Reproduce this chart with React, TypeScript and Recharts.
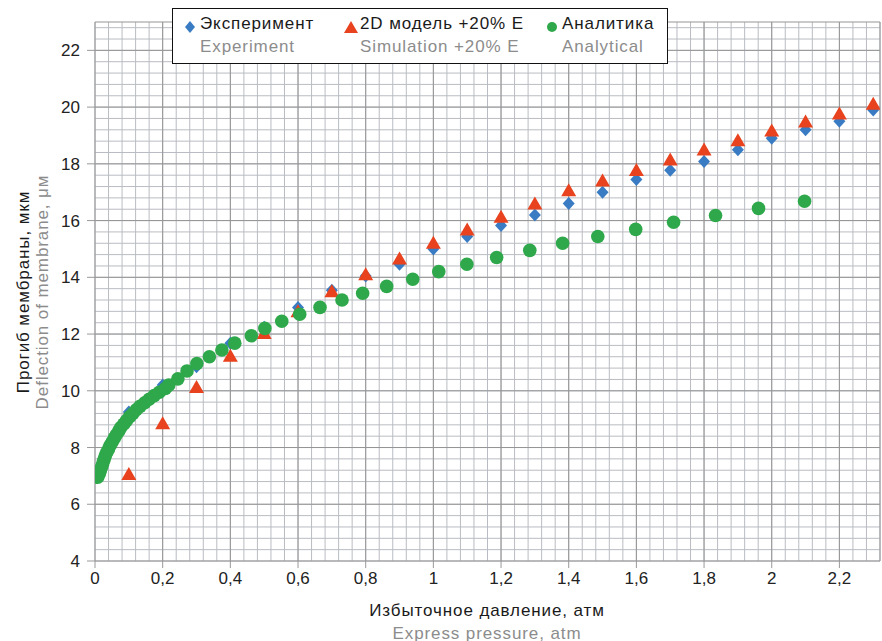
import React from 'react';
import { ScatterChart, Scatter, XAxis, YAxis, CartesianGrid } from 'recharts';

const pressure = [0.1, 0.2, 0.3, 0.4, 0.5, 0.6, 0.7, 0.8, 0.9, 1.0, 1.1, 1.2, 1.3, 1.4, 1.5, 1.6, 1.7, 1.8, 1.9, 2.0, 2.1, 2.2, 2.3];
const experiment = [9.25, 10.2, 10.85, 11.68, 12.24, 12.94, 13.54, 14.05, 14.46, 15.0, 15.44, 15.83, 16.2, 16.6, 17.0, 17.45, 17.77, 18.08, 18.5, 18.9, 19.2, 19.5, 19.9];
const simulation = [7.03, 8.82, 10.1, 11.2, 12.0, 12.77, 13.47, 14.07, 14.63, 15.18, 15.65, 16.1, 16.57, 17.03, 17.38, 17.75, 18.12, 18.47, 18.8, 19.14, 19.46, 19.74, 20.08];

const analyticX = [
    0.008, 0.013, 0.016, 0.02, 0.023, 0.027, 0.03, 0.035, 0.04, 0.045, 0.051, 0.057, 0.063, 0.07, 0.076, 0.085,
    0.093, 0.102, 0.112, 0.122, 0.133, 0.147, 0.16, 0.175, 0.19, 0.208, 0.218, 0.245, 0.272, 0.301, 0.338, 0.375,
    0.413, 0.462, 0.502, 0.552, 0.605, 0.665, 0.73, 0.791, 0.862, 0.939, 1.016, 1.099, 1.187, 1.285, 1.382, 1.486,
    1.598, 1.71, 1.834, 1.961, 2.097,
];
const analyticY = [
    6.95, 7.08, 7.2, 7.33, 7.45, 7.58, 7.7, 7.83, 7.95, 8.08, 8.2, 8.33, 8.45, 8.58, 8.7, 8.83,
    8.95, 9.08, 9.2, 9.33, 9.45, 9.58, 9.7, 9.83, 9.95, 10.08, 10.2, 10.42, 10.7, 10.96, 11.2, 11.44,
    11.68, 11.94, 12.2, 12.45, 12.7, 12.94, 13.2, 13.44, 13.68, 13.93, 14.2, 14.46, 14.7, 14.95, 15.2, 15.44,
    15.69, 15.94, 16.18, 16.43, 16.68,
];

const xTicks = [0, 0.2, 0.4, 0.6, 0.8, 1, 1.2, 1.4, 1.6, 1.8, 2, 2.2];
const yTicks = [4, 6, 8, 10, 12, 14, 16, 18, 20, 22];
const X_DOMAIN = [0, 2.32];
const Y_DOMAIN = [4, 23];

// minor grid: 5 divisions per labelled step
const xMinor = Array.from({ length: 59 }, (_, i) => Math.round(i * 4) / 100);
const yMinor = Array.from({ length: 48 }, (_, i) => Math.round((4 + i * 0.4) * 10) / 10);

const expData = pressure.map((x, i) => ({ x, y: experiment[i] }));
const simData = pressure.map((x, i) => ({ x, y: simulation[i] }));
const anaData = analyticX.map((x, i) => ({ x, y: analyticY[i] }));

const BLUE = '#3a7cc3';
const RED = '#e8421e';
const GREEN = '#2ea84a';
const FONT = '"Liberation Sans", Arial, sans-serif';

const applyScale = (axis: any, v: number, fallback: number) => {
    const s = axis && axis.scale;
    if (typeof s === 'function') return s(v);
    if (s && typeof s.map === 'function') return s.map(v);
    return fallback;
};

const verticalMinor = ({ xAxis, offset }: any) =>
    xMinor.map((v) => applyScale(xAxis, v, offset.left + ((v - X_DOMAIN[0]) / (X_DOMAIN[1] - X_DOMAIN[0])) * offset.width));

const horizontalMinor = ({ yAxis, offset }: any) =>
    yMinor.map((v) => applyScale(yAxis, v, offset.top + offset.height - ((v - Y_DOMAIN[0]) / (Y_DOMAIN[1] - Y_DOMAIN[0])) * offset.height));

const Diamond = (props: any) => {
    const { cx, cy } = props;
    return <path d={`M${cx},${cy - 6.5} L${cx + 6},${cy} L${cx},${cy + 6.5} L${cx - 6},${cy} Z`} fill={BLUE} />;
};

const Triangle = (props: any) => {
    const { cx, cy } = props;
    return <path d={`M${cx},${cy - 8} L${cx + 7.5},${cy + 5} L${cx - 7.5},${cy + 5} Z`} fill={RED} />;
};

const Dot = (props: any) => {
    const { cx, cy } = props;
    return <circle cx={cx} cy={cy} r={6.8} fill={GREEN} />;
};

const fmt = (v: number) => String(v).replace('.', ',');

const LegendItem = ({ icon, ru, en, left }: any) => (
    <div style={{ position: 'absolute', left, top: 4 }}>
        <div style={{ position: 'absolute', left: -16, top: 6 }}>{icon}</div>
        <div style={{ color: '#1a1a1a', fontSize: 17, letterSpacing: 0.9, lineHeight: '22px', whiteSpace: 'nowrap' }}>{ru}</div>
        <div style={{ color: '#8c8c8c', fontSize: 17, letterSpacing: 0.9, lineHeight: '24px', whiteSpace: 'nowrap' }}>{en}</div>
    </div>
);

const App: React.FC = () => {
    return (
        <div style={{ position: 'absolute', left: 0, top: 0, width: 882, height: 641, background: '#fff', fontFamily: FONT }}>
            <ScatterChart width={882} height={641} margin={{ top: 22, right: 2, bottom: 0, left: 0 }}>
                <CartesianGrid
                    stroke="#b9bcc2"
                    strokeWidth={1}
                    verticalCoordinatesGenerator={verticalMinor}
                    horizontalCoordinatesGenerator={horizontalMinor}
                />
                <CartesianGrid stroke="#959595" strokeWidth={1} />
                <XAxis
                    type="number"
                    dataKey="x"
                    domain={X_DOMAIN}
                    ticks={xTicks}
                    tickFormatter={fmt}
                    axisLine={false}
                    tickLine={{ stroke: '#999' }}
                    tickSize={7}
                    tickMargin={4}
                    height={80}
                    tick={{ fill: '#222', fontSize: 17, fontFamily: FONT }}
                    allowDataOverflow
                />
                <YAxis
                    type="number"
                    dataKey="y"
                    domain={Y_DOMAIN}
                    ticks={yTicks}
                    axisLine={false}
                    tickLine={{ stroke: '#999' }}
                    tickSize={8}
                    tickMargin={7}
                    width={95}
                    tick={{ fill: '#222', fontSize: 17, fontFamily: FONT }}
                    allowDataOverflow
                />
                <Scatter data={expData} shape={Diamond} isAnimationActive={false} />
                <Scatter data={simData} shape={Triangle} isAnimationActive={false} />
                <Scatter data={anaData} shape={Dot} isAnimationActive={false} />
            </ScatterChart>

            <svg width={882} height={641} style={{ position: 'absolute', left: 0, top: 0, pointerEvents: 'none' }}>
                <text x={23} y={292} transform="rotate(-90 23 292)" textAnchor="middle" dominantBaseline="central" fill="#1a1a1a" fontSize={17} letterSpacing={0.9} fontFamily={FONT}>
                    Прогиб мембраны, мкм
                </text>
                <text x={42} y={292} transform="rotate(-90 42 292)" textAnchor="middle" dominantBaseline="central" fill="#8c8c8c" fontSize={17} letterSpacing={0.9} fontFamily={FONT}>
                    Deflection of membrane, μм
                </text>
                <text x={487} y={610} textAnchor="middle" dominantBaseline="central" fill="#1a1a1a" fontSize={17} letterSpacing={0.9} fontFamily={FONT}>
                    Избыточное давление, атм
                </text>
                <text x={487} y={633} textAnchor="middle" dominantBaseline="central" fill="#8c8c8c" fontSize={17} letterSpacing={0.9} fontFamily={FONT}>
                    Express pressure, atm
                </text>
            </svg>

            <div style={{ position: 'absolute', left: 172, top: 8, width: 494, height: 54, border: '1.5px solid #111', background: '#fff' }}>
                <LegendItem left={27} ru="Эксперимент" en="Experiment" icon={<svg width={12} height={12}><path d="M6,0 L11,6 L6,12 L1,6 Z" fill={BLUE} /></svg>} />
                <LegendItem left={187} ru="2D модель +20% E" en="Simulation +20% E" icon={<svg width={14} height={12}><path d="M7,0 L14,12 L0,12 Z" fill={RED} /></svg>} />
                <LegendItem left={389} ru="Аналитика" en="Analytical" icon={<svg width={12} height={12}><circle cx={6} cy={6} r={5} fill={GREEN} /></svg>} />
            </div>
        </div>
    );
};

export default App;
